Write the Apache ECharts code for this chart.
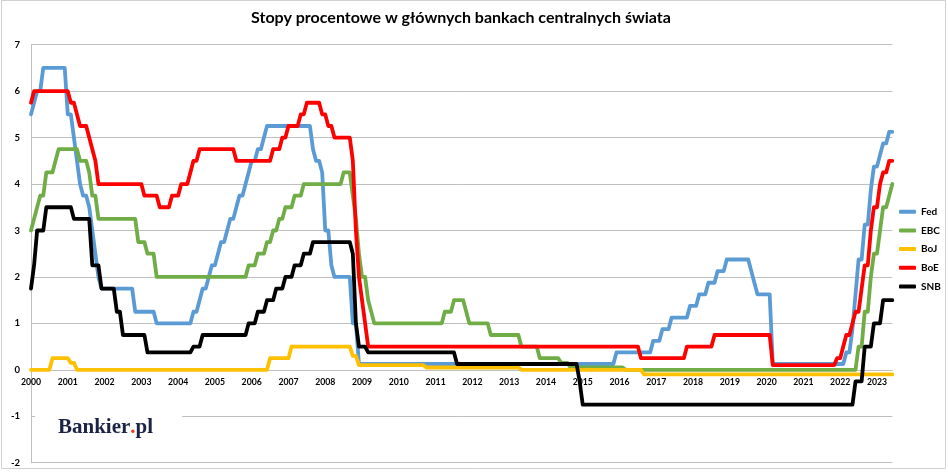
<!DOCTYPE html>
<html><head><meta charset="utf-8">
<script src="https://cdn.jsdelivr.net/npm/echarts@6/dist/echarts.min.js"></script>
<style>html,body{margin:0;padding:0;background:#fff}#c{width:948px;height:474px}</style>
</head><body><div id="c"></div>
<script>
// Data: change points [month, rate %], values held until next change
const seriesNames = ['Fed','EBC','BoJ','BoE','SNB'];
const fedChanges = [
['2000-01',5.5],['2000-02',5.75],['2000-03',6.0],['2000-05',6.5],
['2001-01',5.5],['2001-03',5.0],['2001-04',4.5],['2001-05',4.0],['2001-06',3.75],['2001-08',3.5],['2001-09',3.0],['2001-10',2.5],['2001-11',2.0],['2001-12',1.75],
['2002-11',1.25],['2003-06',1.0],
['2004-06',1.25],['2004-08',1.5],['2004-09',1.75],['2004-11',2.0],['2004-12',2.25],['2005-02',2.5],['2005-03',2.75],['2005-05',3.0],['2005-06',3.25],['2005-08',3.5],['2005-09',3.75],['2005-11',4.0],['2005-12',4.25],['2006-01',4.5],['2006-03',4.75],['2006-05',5.0],['2006-06',5.25],
['2007-09',4.75],['2007-10',4.5],['2007-12',4.25],['2008-01',3.0],['2008-03',2.25],['2008-04',2.0],['2008-10',1.0],['2008-12',0.125],
['2015-12',0.375],['2016-12',0.625],['2017-03',0.875],['2017-06',1.125],['2017-12',1.375],['2018-03',1.625],['2018-06',1.875],['2018-09',2.125],['2018-12',2.375],['2019-08',2.125],['2019-09',1.875],['2019-10',1.625],['2020-03',0.125],
['2022-03',0.375],['2022-05',0.875],['2022-06',1.625],['2022-07',2.375],['2022-09',3.125],['2022-11',3.875],['2022-12',4.375],['2023-02',4.625],['2023-03',4.875],['2023-05',5.125]
];
const ebcChanges = [
['2000-01',3.0],['2000-02',3.25],['2000-03',3.5],['2000-04',3.75],['2000-06',4.25],['2000-09',4.5],['2000-10',4.75],
['2001-05',4.5],['2001-08',4.25],['2001-09',3.75],['2001-11',3.25],
['2002-12',2.75],['2003-03',2.5],['2003-06',2.0],
['2005-12',2.25],['2006-03',2.5],['2006-06',2.75],['2006-08',3.0],['2006-10',3.25],['2006-12',3.5],['2007-03',3.75],['2007-06',4.0],
['2008-07',4.25],['2008-10',3.75],['2008-11',3.25],['2008-12',2.5],['2009-01',2.0],['2009-03',1.5],['2009-04',1.25],['2009-05',1.0],
['2011-04',1.25],['2011-07',1.5],['2011-11',1.25],['2011-12',1.0],['2012-07',0.75],['2013-05',0.5],['2013-11',0.25],['2014-06',0.15],['2014-09',0.05],['2016-03',0.0],
['2022-07',0.5],['2022-09',1.25],['2022-11',2.0],['2022-12',2.5],['2023-02',3.0],['2023-03',3.5],['2023-05',3.75],['2023-06',4.0]
];
const bojChanges = [
['2000-01',0],['2000-08',0.25],['2001-02',0.15],['2001-04',0],['2006-07',0.25],['2007-02',0.5],['2008-10',0.3],['2008-12',0.1],['2010-10',0.05],['2013-05',0],['2016-09',-0.1]
];
const boeChanges = [
['2000-01',5.75],['2000-02',6.0],['2001-02',5.75],['2001-04',5.5],['2001-05',5.25],['2001-08',5.0],['2001-09',4.75],['2001-10',4.5],['2001-11',4.0],
['2003-02',3.75],['2003-07',3.5],['2003-11',3.75],['2004-02',4.0],['2004-05',4.25],['2004-06',4.5],['2004-08',4.75],['2005-08',4.5],['2006-08',4.75],['2006-11',5.0],['2007-01',5.25],['2007-05',5.5],['2007-07',5.75],['2007-12',5.5],['2008-02',5.25],['2008-04',5.0],['2008-10',4.5],['2008-11',3.0],['2008-12',2.0],['2009-01',1.5],['2009-02',1.0],['2009-03',0.5],
['2016-08',0.25],['2017-11',0.5],['2018-08',0.75],['2020-03',0.1],['2021-12',0.25],['2022-02',0.5],['2022-03',0.75],['2022-05',1.0],['2022-06',1.25],['2022-08',1.75],['2022-09',2.25],['2022-11',3.0],['2022-12',3.5],['2023-02',4.0],['2023-03',4.25],['2023-05',4.5]
];
const snbChanges = [
['2000-01',1.75],['2000-02',2.25],['2000-03',3.0],['2000-06',3.5],['2001-03',3.25],['2001-09',2.25],['2001-12',1.75],['2002-05',1.25],['2002-07',0.75],['2003-03',0.375],['2004-06',0.5],['2004-09',0.75],['2005-12',1.0],['2006-03',1.25],['2006-06',1.5],['2006-09',1.75],['2006-12',2.0],['2007-03',2.25],['2007-06',2.5],['2007-09',2.75],['2008-10',2.5],['2008-11',1.0],['2008-12',0.5],['2009-03',0.375],['2011-08',0.125],['2014-12',-0.25],['2015-01',-0.75],['2022-06',-0.25],['2022-09',0.5],['2022-12',1.0],['2023-03',1.5]
];
const firstMonth = '2000-01', lastMonth = '2023-06';
const yTicks = [-2,-1,0,1,2,3,4,5,6,7];
const colors = ['#5b9bd5','#70ad47','#ffc000','#ff0000','#000000'];

// monthly category axis
const months = [];
(function(){ let y=+firstMonth.slice(0,4), m=+firstMonth.slice(5,7);
  while(true){ const s=y+'-'+String(m).padStart(2,'0'); months.push(s); if(s===lastMonth) break; m++; if(m>12){m=1;y++;} } })();
function build(changes){
  const out=[]; let prev=null;
  changes.forEach(([m,v])=>{
    const i=months.indexOf(m);
    if(prev!==null && out[out.length-1][0]!==i-1) out.push([i-1,prev]);
    out.push([i,v]); prev=v;
  });
  const li=months.length-1;
  if(out[out.length-1][0]!==li) out.push([li,prev]);
  return out;
}
const allChanges=[fedChanges,ebcChanges,bojChanges,boeChanges,snbChanges];
const FONT='Lato';
const G={left:31,right:55.7,top:44.7,bottom:11.3};
const yMin=yTicks[0], yMax=yTicks[yTicks.length-1];
const gridH=474-G.top-G.bottom;
const zeroOffset=-gridH*(0-yMin)/(yMax-yMin);
const chart=echarts.init(document.getElementById('c'),null,{renderer:'canvas'});
chart.setOption({
  animation:false,
  backgroundColor:'#fff',
  grid:Object.assign({containLabel:false},G),
  xAxis:{type:'category',data:months,boundaryGap:false,position:'bottom',offset:zeroOffset,
    axisLine:{onZero:false,lineStyle:{color:'#bfbfbf',width:1}},
    axisTick:{show:false},
    axisLabel:{interval:(i,v)=>v.endsWith('-01'),formatter:v=>v.slice(0,4),
      color:'#000',fontFamily:FONT,fontWeight:'bold',fontSize:8.7,margin:8},
    splitLine:{show:false}},
  yAxis:{type:'value',min:yMin,max:yMax,interval:1,
    axisLine:{show:true,lineStyle:{color:'#bfbfbf'}},
    axisTick:{show:false},
    axisLabel:{color:'#000',fontFamily:FONT,fontWeight:'bold',fontSize:9.5,margin:11},
    splitLine:{lineStyle:{color:'#bfbfbf',width:1}}},
  legend:{orient:'vertical',left:899,top:204.7,padding:0,itemWidth:17,itemHeight:4,itemGap:4.7,icon:'roundRect',
    textStyle:{color:'#000',fontFamily:FONT,fontWeight:'bold',fontSize:10,lineHeight:14},
    data:seriesNames},
  series:seriesNames.map((n,k)=>({name:n,type:'line',data:build(allChanges[k]),showSymbol:false,symbol:'none',
    lineStyle:{color:colors[k],width:3.8,join:'round',cap:'round'},itemStyle:{color:colors[k]},z:2+k})),
  graphic:[
    {type:'rect',z:-10,silent:true,shape:{x:1.5,y:0.5,width:944,height:468},style:{fill:'none',stroke:'#d0d0d0',lineWidth:1}},
    {type:'text',z:100,silent:true,style:{text:'Stopy procentowe w głównych bankach centralnych świata',x:461,y:17.5,align:'center',verticalAlign:'middle',
      fontFamily:FONT,fontWeight:'bold',fontSize:16,fill:'#000'}},
    {type:'rect',z:100,silent:true,shape:{x:35,y:402,width:147,height:42},style:{fill:'#fff'}},
    {type:'text',z:101,silent:true,style:{text:'{a|Bankier}{b|.}{a|pl}',x:58,y:428,verticalAlign:'middle',
      rich:{a:{fontFamily:'Liberation Serif',fontWeight:'bold',fontSize:21,fill:'#1b2442'},
            b:{fontFamily:'Liberation Serif',fontWeight:'bold',fontSize:21,fill:'#e8401c'}}}}
  ]
});
</script></body></html>
